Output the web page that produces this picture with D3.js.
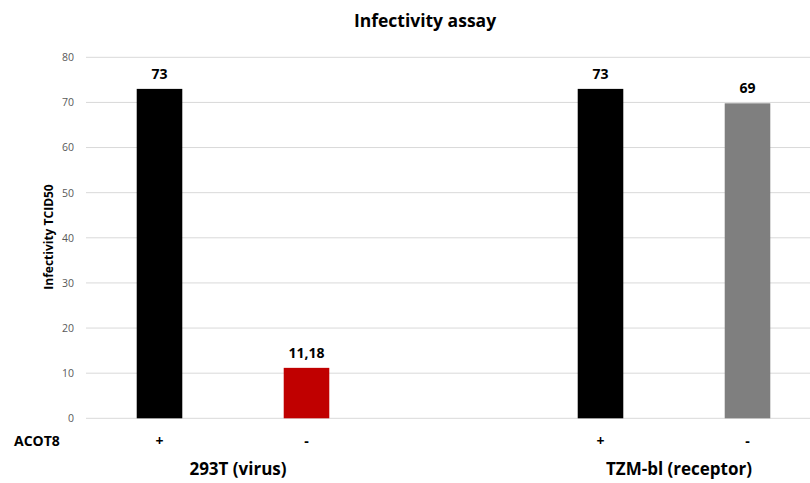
<!DOCTYPE html>
<html>
<head>
<meta charset="utf-8">
<script src="https://cdn.jsdelivr.net/npm/d3@7"></script>
<style>
  body { margin: 0; background: #fff; }
  svg { display: block; font-family: "Open Sans", "Liberation Sans", sans-serif; }
</style>
</head>
<body>
<svg></svg>
<script>
// data
var slots = ["293T+", "293T-", "gap", "TZM+", "TZM-"];
var barSlots = ["293T+", "293T-", "TZM+", "TZM-"];
var acot8 = ["+", "-", "+", "-"];
var values = [73, 11.18, 73, 69.8];
var valueLabels = ["73", "11,18", "73", "69"];
var barColors = ["#000000", "#c00000", "#000000", "#7f7f7f"];
var groups = ["293T (virus)", "TZM-bl (receptor)"];
var groupSlots = [["293T+", "293T-"], ["TZM+", "TZM-"]];
var yTicks = [0, 10, 20, 30, 40, 50, 60, 70, 80];

var W = 810, H = 483;
var svg = d3.select("svg").attr("width", W).attr("height", H);

var x = d3.scaleBand().domain(slots).range([86, 821]).paddingInner(0.69).paddingOuter(0.345);
var y = d3.scaleLinear().domain([0, 80]).range([418.3, 57.3]);

// gridlines
svg.append("g")
    .selectAll("line")
    .data(yTicks)
    .enter().append("line")
    .attr("x1", 86).attr("x2", W)
    .attr("y1", function (d) { return y(d); })
    .attr("y2", function (d) { return y(d); })
    .attr("stroke", "#d9d9d9")
    .attr("stroke-width", 1);

// y axis labels
var yAxis = svg.append("g")
    .attr("transform", "translate(74,0)")
    .call(d3.axisLeft(y).tickValues(yTicks).tickSize(0).tickPadding(0));
yAxis.select(".domain").remove();
yAxis.selectAll("text")
    .attr("fill", "#595959")
    .style("font-size", "10.5px")
    .style("font-family", "'Open Sans', sans-serif");

// bars
svg.append("g")
    .selectAll("rect")
    .data(values)
    .enter().append("rect")
    .attr("x", function (d, i) { return x(barSlots[i]); })
    .attr("width", x.bandwidth())
    .attr("y", function (d) { return y(d); })
    .attr("height", function (d) { return y(0) - y(d); })
    .attr("fill", function (d, i) { return barColors[i]; });

// value labels
svg.append("g")
    .selectAll("text")
    .data(values)
    .enter().append("text")
    .attr("x", function (d, i) { return x(barSlots[i]) + x.bandwidth() / 2; })
    .attr("y", function (d) { return y(d) - 10; })
    .attr("text-anchor", "middle")
    .style("font-size", "14px")
    .style("font-weight", "bold")
    .text(function (d, i) { return valueLabels[i]; });

// ACOT8 row
svg.append("text")
    .attr("x", 14).attr("y", 446)
    .style("font-size", "14px")
    .style("font-weight", "bold")
    .text("ACOT8");

svg.append("g")
    .selectAll("text")
    .data(acot8)
    .enter().append("text")
    .attr("x", function (d, i) { return x(barSlots[i]) + x.bandwidth() / 2; })
    .attr("y", 446)
    .attr("text-anchor", "middle")
    .style("font-size", "14px")
    .style("font-weight", "bold")
    .text(function (d) { return d; });

// group labels
svg.append("g")
    .selectAll("text")
    .data(groups)
    .enter().append("text")
    .attr("x", function (d, i) {
        var a = x(groupSlots[i][0]), b = x(groupSlots[i][1]) + x.bandwidth();
        return (a + b) / 2 + 5;
    })
    .attr("y", 475)
    .attr("text-anchor", "middle")
    .style("font-size", "17px")
    .style("font-weight", "bold")
    .text(function (d) { return d; });

// title
svg.append("text")
    .attr("x", 425).attr("y", 27)
    .attr("text-anchor", "middle")
    .style("font-size", "17.5px")
    .style("font-weight", "bold")
    .text("Infectivity assay");

// y axis title
svg.append("text")
    .attr("transform", "translate(53,237) rotate(-90)")
    .attr("text-anchor", "middle")
    .style("font-size", "12px")
    .style("font-weight", "bold")
    .text("Infectivity TCID50");
</script>
</body>
</html>
